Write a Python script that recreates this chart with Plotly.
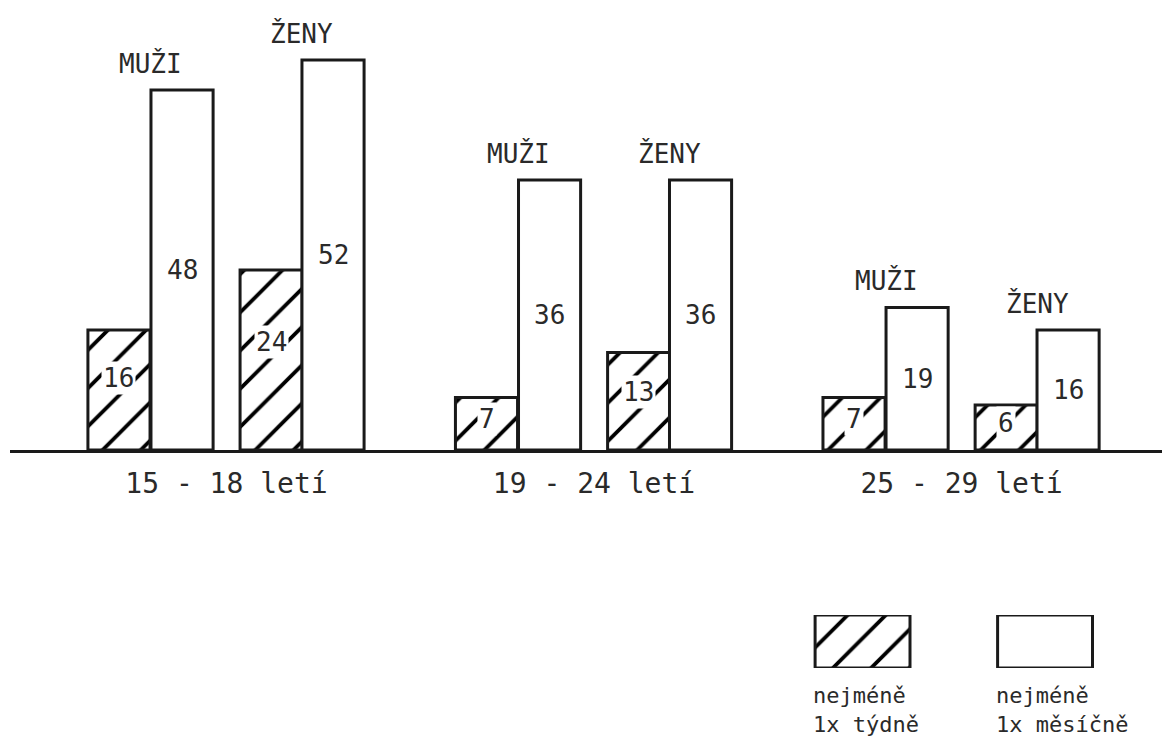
import plotly.graph_objects as go

# ---- data ----
groups = ["15 - 18 letí", "19 - 24 letí", "25 - 29 letí"]
muzi_tydne = [16, 7, 7]
muzi_mesicne = [48, 36, 19]
zeny_tydne = [24, 13, 6]
zeny_mesicne = [52, 36, 16]
sex_labels = ["MUŽI", "ŽENY"]
legend_labels = ["nejméně<br>1x týdně", "nejméně<br>1x měsíčně"]

# ---- styling / layout constants ----
FONT = "DejaVu Sans Mono"
INK = "#1a1a1a"
TXT = "#2a2a2a"
W = 0.169            # bar width in category units
OFF = {              # left-edge offsets of each bar relative to the category centre
    "mt": -0.377, "mm": -0.2054, "zt": 0.037, "zm": 0.2054,
}
HATCH = dict(shape="/", fgcolor="black", bgcolor="white", size=27,
             solidity=0.14, fgopacity=1)
LINE = dict(color=INK, width=3)

fig = go.Figure()

def add_bar(vals, key, hatched):
    fig.add_trace(go.Bar(
        x=groups, y=vals, offset=OFF[key], width=W,
        marker=dict(color="white", line=LINE,
                    pattern=HATCH if hatched else dict(shape="")),
        showlegend=False, hoverinfo="skip",
    ))

add_bar(muzi_tydne, "mt", True)
add_bar(muzi_mesicne, "mm", False)
add_bar(zeny_tydne, "zt", True)
add_bar(zeny_mesicne, "zm", False)

ann = []
def value_labels(vals, key, frac, hatched):
    for i, v in enumerate(vals):
        d = dict(x=i + OFF[key] + W / 2, y=v * frac, xref="x", yref="y",
                 text=str(v), showarrow=False,
                 font=dict(family=FONT, size=26, color=TXT))
        if hatched:
            d.update(bgcolor="white", borderpad=1)
        ann.append(d)

value_labels(muzi_tydne, "mt", 0.6, True)
value_labels(muzi_mesicne, "mm", 0.5, False)
value_labels(zeny_tydne, "zt", 0.6, True)
value_labels(zeny_mesicne, "zm", 0.5, False)

# sex labels above each pair
for i in range(len(groups)):
    for lab, key_m, vals in ((sex_labels[0], "mm", muzi_mesicne),
                             (sex_labels[1], "zm", zeny_mesicne)):
        ann.append(dict(x=i + OFF[key_m], y=vals[i], xref="x", yref="y",
                        text=lab, showarrow=False, yanchor="bottom", yshift=9,
                        font=dict(family=FONT, size=26, color=TXT)))

# ---- custom legend (bars on a secondary axis pair) ----
leg_x = [0, 1]
fig.add_trace(go.Bar(x=leg_x[:1], y=[1], width=0.52, xaxis="x2", yaxis="y2",
                     marker=dict(color="white", line=LINE, pattern=HATCH),
                     showlegend=False, hoverinfo="skip"))
fig.add_trace(go.Bar(x=leg_x[1:], y=[1], width=0.52, xaxis="x2", yaxis="y2",
                     marker=dict(color="white", line=LINE),
                     showlegend=False, hoverinfo="skip"))
for xi, lab in zip(leg_x, legend_labels):
    ann.append(dict(x=xi - 0.28, y=0, xref="x2", yref="y2", text=lab,
                    showarrow=False, xanchor="left", yanchor="top", yshift=-13,
                    align="left", font=dict(family=FONT, size=22, color=TXT)))

fig.update_layout(
    width=1170, height=740,
    margin=dict(l=2, r=0, t=0, b=0),
    paper_bgcolor="white", plot_bgcolor="white",
    barmode="overlay",
    annotations=ann,
    xaxis=dict(type="category", range=[-0.589, 2.589], domain=[0, 1],
               showline=True, linecolor=INK, linewidth=3, showgrid=False,
               zeroline=False, ticks="", ticklabelstandoff=6,
               tickfont=dict(family=FONT, size=28, color=TXT), anchor="y"),
    yaxis=dict(range=[0, 58.93], domain=[0.4027, 1], visible=False, anchor="x"),
    xaxis2=dict(domain=[0.6518, 0.9643], range=[-0.5, 1.5], visible=False, anchor="y2"),
    yaxis2=dict(domain=[0.1081, 0.1797], range=[0, 1], visible=False, anchor="x2"),
)

fig.write_html("out.html")
